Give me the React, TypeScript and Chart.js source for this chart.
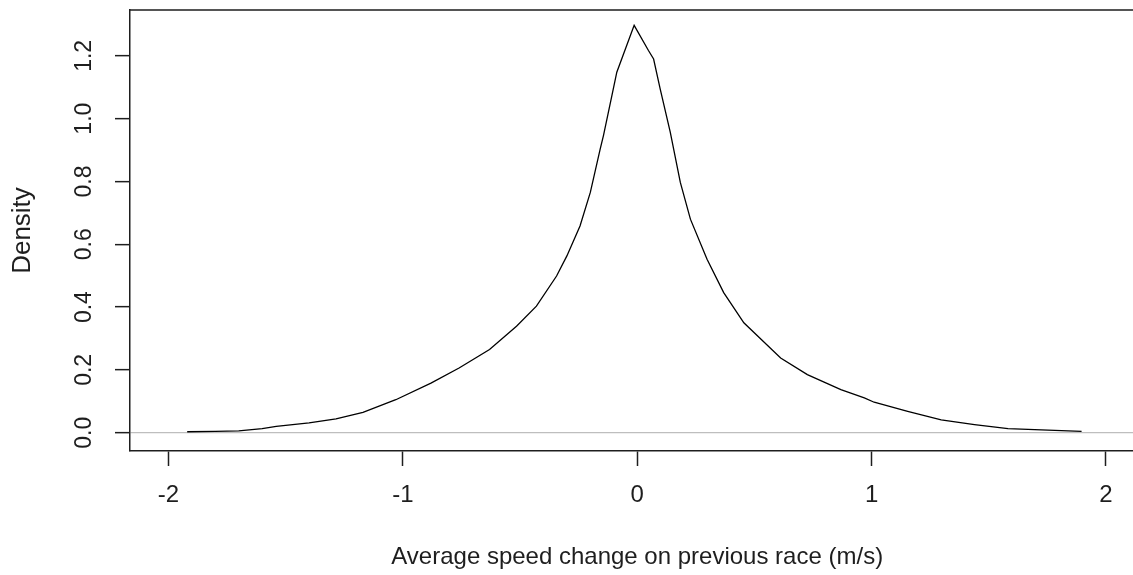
import React, { useEffect, useRef } from "react";
import { Chart, registerables } from "chart.js";

Chart.register(...registerables);

// Density curve
const speedChange: number[] = [
  -1.92, -1.8, -1.7, -1.6, -1.54, -1.4, -1.285, -1.17, -1.03, -0.88, -0.76, -0.63, -0.515, -0.43,
  -0.344, -0.3, -0.244, -0.2, -0.158, -0.144, -0.108, -0.087, -0.013, 0.048, 0.07, 0.098, 0.141,
  0.184, 0.227, 0.298, 0.369, 0.455, 0.612, 0.726, 0.869, 0.969, 1.011, 1.154, 1.297, 1.439, 1.582,
  1.724, 1.896,
];
const density: number[] = [
  0.003, 0.004, 0.006, 0.013, 0.02, 0.031, 0.044, 0.065, 0.105, 0.158, 0.206, 0.265, 0.339, 0.403,
  0.499, 0.563, 0.658, 0.765, 0.903, 0.946, 1.073, 1.148, 1.297, 1.217, 1.19, 1.095, 0.957, 0.797,
  0.68, 0.552, 0.446, 0.35, 0.238, 0.185, 0.137, 0.111, 0.097, 0.068, 0.041, 0.026, 0.013, 0.009,
  0.004,
];
const xTicks: number[] = [-2, -1, 0, 1, 2];
const yTicks: number[] = [0, 0.2, 0.4, 0.6, 0.8, 1.0, 1.2];
const xLabel = "Average speed change on previous race (m/s)";
const yLabel = "Density";

const FONT = "'Liberation Sans', Arial, sans-serif";
const INK = "#1e1e1e";

const boxPlugin = {
  id: "boxTopRight",
  afterDraw(chart: any) {
    const { ctx, chartArea } = chart;
    ctx.save();
    ctx.strokeStyle = INK;
    ctx.lineWidth = 1.5;
    ctx.beginPath();
    ctx.moveTo(chartArea.left, chartArea.top);
    ctx.lineTo(chartArea.right, chartArea.top);
    ctx.lineTo(chartArea.right, chartArea.bottom);
    ctx.stroke();
    ctx.restore();
  },
};

export default function App() {
  const ref = useRef<HTMLCanvasElement | null>(null);

  useEffect(() => {
    document.body.style.margin = "0";
    document.body.style.overflow = "hidden";
    if (!ref.current) return;
    const chart = new Chart(ref.current, {
      type: "line",
      data: {
        datasets: [
          {
            data: speedChange.map((x, i) => ({ x, y: density[i] })),
            borderColor: "#000",
            borderWidth: 1.3,
            pointRadius: 0,
            tension: 0,
            fill: false,
          },
        ],
      },
      options: {
        animation: false,
        responsive: false,
        events: [],
        layout: { padding: { top: 10, right: 5.6, left: 0, bottom: 0 } },
        plugins: { legend: { display: false }, tooltip: { enabled: false } },
        scales: {
          x: {
            type: "linear",
            min: -2.164,
            max: 2.164,
            afterBuildTicks: (s: any) => {
              s.ticks = xTicks.map((v) => ({ value: v }));
            },
            afterFit: (s: any) => {
              s.height = 124;
              s.paddingLeft = 0;
              s.paddingRight = 0;
            },
            grid: {
              drawOnChartArea: false,
              drawTicks: true,
              tickLength: 15,
              tickColor: INK,
              tickWidth: 1.5,
            },
            border: { display: true, color: INK, width: 1.5 },
            ticks: {
              color: INK,
              font: { family: FONT, size: 24 },
              padding: 15,
              maxRotation: 0,
              autoSkip: false,
              callback: (v: any) => String(v),
            },
            title: {
              display: true,
              text: xLabel,
              color: INK,
              font: { family: FONT, size: 24 },
              padding: { top: 0, bottom: 3.5 },
            },
          },
          y: {
            type: "linear",
            min: -0.0583,
            max: 1.346,
            afterBuildTicks: (s: any) => {
              s.ticks = yTicks.map((v) => ({ value: v }));
            },
            afterFit: (s: any) => {
              s.width = 130;
              s.paddingTop = 0;
              s.paddingBottom = 0;
            },
            grid: {
              drawOnChartArea: true,
              drawTicks: true,
              tickLength: 15,
              tickColor: INK,
              tickWidth: 1.5,
              color: (c: any) => (c.tick && c.tick.value === 0 ? "#bebebe" : "rgba(0,0,0,0)"),
              lineWidth: 1.3,
            },
            border: { display: true, color: INK, width: 1.5 },
            ticks: {
              color: INK,
              font: { family: FONT, size: 23 },
              padding: 14,
              minRotation: 90,
              maxRotation: 90,
              crossAlign: "center",
              autoSkip: false,
              callback: (v: any) => Number(v).toFixed(1),
            },
            title: {
              display: true,
              text: yLabel,
              color: INK,
              font: { family: FONT, size: 26 },
              padding: { top: 7.5, bottom: 0 },
            },
          },
        },
      },
      plugins: [boxPlugin],
    });
    return () => chart.destroy();
  }, []);

  return (
    <div
      style={{
        position: "fixed",
        left: 0,
        top: 0,
        width: 1133,
        height: 575,
        overflow: "hidden",
        background: "#fff",
      }}
    >
      <canvas ref={ref} width={1150} height={575} style={{ display: "block" }} />
    </div>
  );
}
